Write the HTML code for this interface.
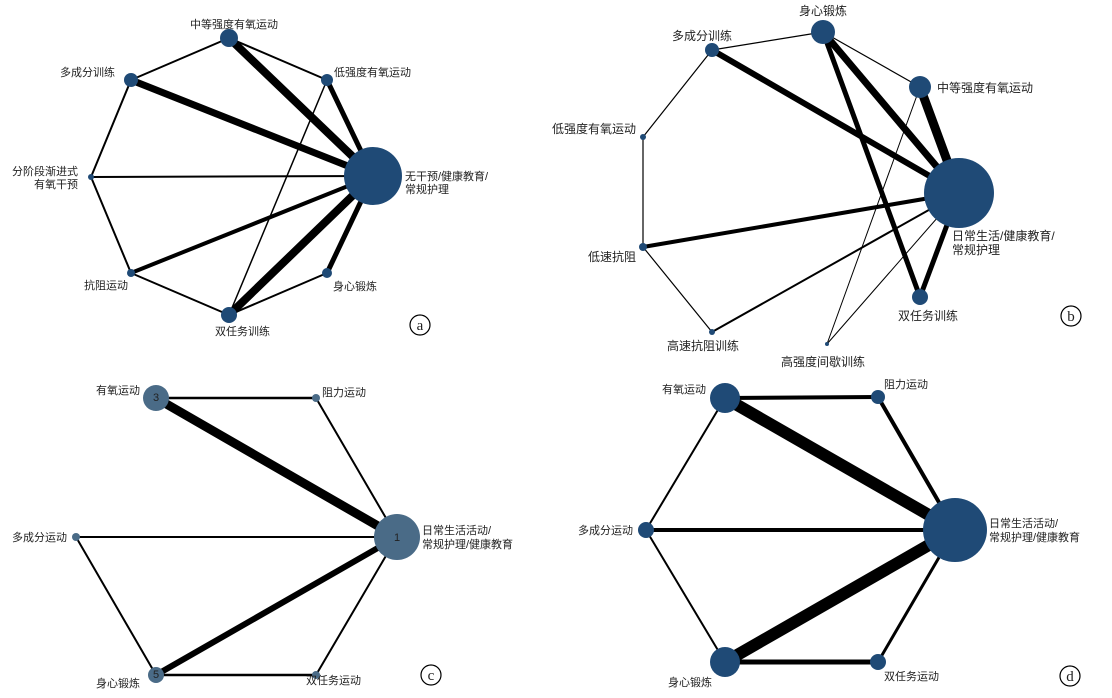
<!DOCTYPE html>
<html><head><meta charset="utf-8"><style>
html,body{margin:0;padding:0;background:#fff}
svg text{font-family:"Liberation Sans","Noto Sans CJK SC",sans-serif;font-size:11px;fill:#222}
svg g.b text{font-size:12px}
</style></head><body>
<svg width="1112" height="693" viewBox="0 0 1112 693" xmlns="http://www.w3.org/2000/svg">
<g stroke="#000" stroke-linecap="round">
<line x1="229" y1="38" x2="373" y2="176" stroke-width="8"/>
<line x1="131" y1="80" x2="373" y2="176" stroke-width="7"/>
<line x1="327" y1="80" x2="373" y2="176" stroke-width="5"/>
<line x1="91" y1="177" x2="373" y2="176" stroke-width="2"/>
<line x1="131" y1="273" x2="373" y2="176" stroke-width="4"/>
<line x1="229" y1="315" x2="373" y2="176" stroke-width="8"/>
<line x1="327" y1="273" x2="373" y2="176" stroke-width="5"/>
<line x1="229" y1="38" x2="131" y2="80" stroke-width="2"/>
<line x1="229" y1="38" x2="327" y2="80" stroke-width="2"/>
<line x1="131" y1="80" x2="91" y2="177" stroke-width="2"/>
<line x1="91" y1="177" x2="131" y2="273" stroke-width="2"/>
<line x1="131" y1="273" x2="229" y2="315" stroke-width="2"/>
<line x1="229" y1="315" x2="327" y2="273" stroke-width="2"/>
<line x1="327" y1="80" x2="229" y2="315" stroke-width="1.5"/>
<line x1="823" y1="32" x2="959" y2="193" stroke-width="7"/>
<line x1="712" y1="50" x2="959" y2="193" stroke-width="6"/>
<line x1="920" y1="87" x2="959" y2="193" stroke-width="9"/>
<line x1="643" y1="247" x2="959" y2="193" stroke-width="4"/>
<line x1="712" y1="332" x2="959" y2="193" stroke-width="2"/>
<line x1="920" y1="297" x2="959" y2="193" stroke-width="5"/>
<line x1="823" y1="32" x2="920" y2="297" stroke-width="5"/>
<line x1="823" y1="32" x2="920" y2="87" stroke-width="1.2"/>
<line x1="712" y1="50" x2="823" y2="32" stroke-width="1.2"/>
<line x1="712" y1="50" x2="643" y2="137" stroke-width="1.2"/>
<line x1="643" y1="137" x2="643" y2="247" stroke-width="1.2"/>
<line x1="643" y1="247" x2="712" y2="332" stroke-width="1.2"/>
<line x1="827" y1="344" x2="920" y2="87" stroke-width="1"/>
<line x1="827" y1="344" x2="959" y2="193" stroke-width="1"/>
<line x1="156" y1="398" x2="397" y2="537" stroke-width="9"/>
<line x1="156" y1="398" x2="316" y2="398" stroke-width="2.5"/>
<line x1="316" y1="398" x2="397" y2="537" stroke-width="2"/>
<line x1="76" y1="537" x2="397" y2="537" stroke-width="2"/>
<line x1="76" y1="537" x2="156" y2="675" stroke-width="2"/>
<line x1="156" y1="675" x2="397" y2="537" stroke-width="6"/>
<line x1="156" y1="675" x2="316" y2="675" stroke-width="2.5"/>
<line x1="316" y1="675" x2="397" y2="537" stroke-width="2"/>
<line x1="725" y1="398" x2="955" y2="530" stroke-width="12"/>
<line x1="725" y1="398" x2="878" y2="397" stroke-width="4"/>
<line x1="878" y1="397" x2="955" y2="530" stroke-width="4"/>
<line x1="646" y1="530" x2="955" y2="530" stroke-width="4"/>
<line x1="725" y1="398" x2="646" y2="530" stroke-width="2"/>
<line x1="646" y1="530" x2="725" y2="662" stroke-width="2"/>
<line x1="725" y1="662" x2="955" y2="530" stroke-width="12"/>
<line x1="725" y1="662" x2="878" y2="662" stroke-width="5"/>
<line x1="878" y1="662" x2="955" y2="530" stroke-width="3"/>
</g>
<g fill="#1f4a76">
<circle cx="373" cy="176" r="29"/><circle cx="229" cy="38" r="9"/><circle cx="131" cy="80" r="7"/>
<circle cx="327" cy="80" r="6"/><circle cx="91" cy="177" r="3"/><circle cx="131" cy="273" r="4"/>
<circle cx="229" cy="315" r="8"/><circle cx="327" cy="273" r="5"/>
<circle cx="959" cy="193" r="35"/><circle cx="823" cy="32" r="12"/><circle cx="712" cy="50" r="7"/>
<circle cx="920" cy="87" r="11"/><circle cx="643" cy="137" r="3"/><circle cx="643" cy="247" r="4"/>
<circle cx="712" cy="332" r="3"/><circle cx="827" cy="344" r="2"/><circle cx="920" cy="297" r="8"/>
<circle cx="955" cy="530" r="32"/><circle cx="725" cy="398" r="15"/><circle cx="878" cy="397" r="7"/>
<circle cx="646" cy="530" r="8"/><circle cx="725" cy="662" r="15"/><circle cx="878" cy="662" r="8"/>
</g>
<g fill="#4a6b87">
<circle cx="397" cy="537" r="23"/><circle cx="156" cy="398" r="13"/><circle cx="316" cy="398" r="4"/>
<circle cx="76" cy="537" r="4"/><circle cx="156" cy="675" r="8"/><circle cx="316" cy="675" r="4"/>
</g>
<g style="font-size:9px" text-anchor="middle">
<text x="397" y="541" style="font-size:11px">1</text><text x="156" y="401">3</text><text x="156" y="678">5</text>
</g>
<text x="234" y="28" text-anchor="middle">中等强度有氧运动</text>
<text x="115" y="76" text-anchor="end">多成分训练</text>
<text x="334" y="76">低强度有氧运动</text>
<text x="78" y="175" text-anchor="end">分阶段渐进式</text>
<text x="78" y="188" text-anchor="end">有氧干预</text>
<text x="405" y="180">无干预/健康教育/</text>
<text x="405" y="193">常规护理</text>
<text x="84" y="289">抗阻运动</text>
<text x="333" y="290">身心锻炼</text>
<text x="215" y="335">双任务训练</text>
<g class="b">
<text x="823" y="15" text-anchor="middle">身心锻炼</text>
<text x="672" y="40">多成分训练</text>
<text x="937" y="92">中等强度有氧运动</text>
<text x="552" y="133">低强度有氧运动</text>
<text x="588" y="261">低速抗阻</text>
<text x="952" y="240">日常生活/健康教育/</text>
<text x="952" y="254">常规护理</text>
<text x="898" y="320">双任务训练</text>
<text x="667" y="350">高速抗阻训练</text>
<text x="781" y="366">高强度间歇训练</text>
</g>
<text x="96" y="394">有氧运动</text>
<text x="322" y="396">阻力运动</text>
<text x="12" y="541">多成分运动</text>
<text x="422" y="534">日常生活活动/</text>
<text x="422" y="548">常规护理/健康教育</text>
<text x="96" y="687">身心锻炼</text>
<text x="306" y="684">双任务运动</text>
<text x="662" y="393">有氧运动</text>
<text x="884" y="388">阻力运动</text>
<text x="578" y="534">多成分运动</text>
<text x="989" y="527">日常生活活动/</text>
<text x="989" y="541">常规护理/健康教育</text>
<text x="668" y="686">身心锻炼</text>
<text x="884" y="680">双任务运动</text>
<g fill="none" stroke="#000" stroke-width="1.2">
<circle cx="420" cy="325" r="10"/><circle cx="1071" cy="316" r="10"/>
<circle cx="431" cy="675" r="10"/><circle cx="1070" cy="676" r="10"/>
</g>
<g text-anchor="middle">
<text x="420" y="330" style="font-family:'Liberation Serif',serif;font-size:15px">a</text>
<text x="1071" y="321" style="font-family:'Liberation Serif',serif;font-size:15px">b</text>
<text x="431" y="680" style="font-family:'Liberation Serif',serif;font-size:15px">c</text>
<text x="1070" y="681" style="font-family:'Liberation Serif',serif;font-size:15px">d</text>
</g>
</svg>
</body></html>
